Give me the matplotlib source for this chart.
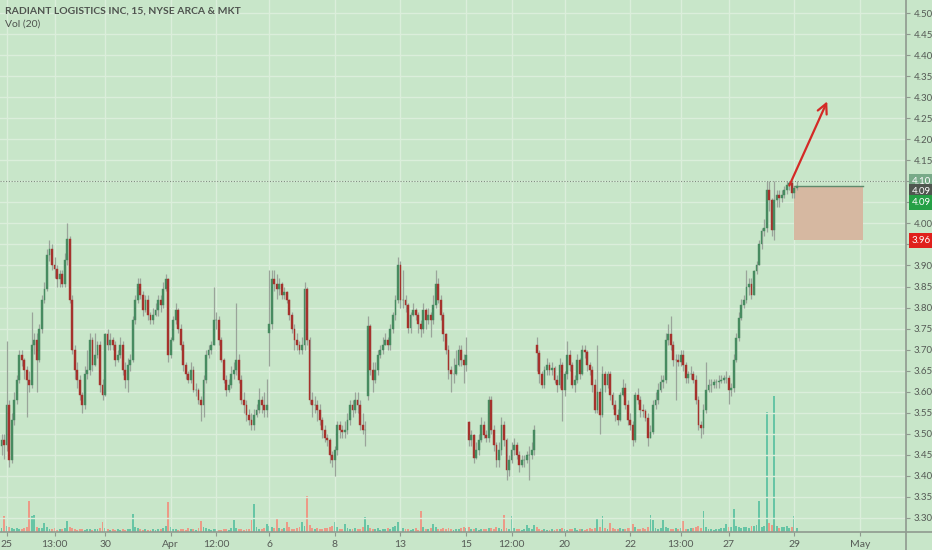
import numpy as np
import matplotlib.pyplot as plt
from matplotlib.lines import Line2D
from matplotlib.patches import Rectangle

# 30-minute candles, slot -2 .. 313 (13 slots per trading day, slot 0 = open of Mar 25)
closes = [
    3.485, 3.473,
    3.569, 3.438, 3.533, 3.581, 3.629, 3.688, 3.676, 3.652, 3.629, 3.617, 3.712, 3.724, 3.676,  # Mar 25
    3.748, 3.819, 3.843, 3.926, 3.938, 3.902, 3.891, 3.867, 3.879, 3.855, 3.914, 3.962, 3.819,  # Mar 26
    3.700, 3.652, 3.629, 3.593, 3.569, 3.641, 3.652, 3.724, 3.664, 3.688, 3.712, 3.617, 3.593,  # Mar 27
    3.736, 3.712, 3.724, 3.712, 3.676, 3.688, 3.712, 3.652, 3.629, 3.664, 3.676, 3.771, 3.819,  # Mar 30
    3.855, 3.831, 3.795, 3.819, 3.783, 3.771, 3.783, 3.795, 3.819, 3.807, 3.843, 3.867, 3.688,  # Mar 31
    3.724, 3.771, 3.795, 3.748, 3.712, 3.664, 3.641, 3.629, 3.652, 3.605, 3.605, 3.581, 3.569,  # Apr 1
    3.629, 3.688, 3.700, 3.712, 3.771, 3.771, 3.724, 3.676, 3.629, 3.605, 3.617, 3.641, 3.652,  # Apr 2
    3.676, 3.629, 3.581, 3.569, 3.545, 3.533, 3.521, 3.545, 3.557, 3.581, 3.569, 3.557, 3.569,  # Apr 3
    3.760, 3.867, 3.855, 3.843, 3.855, 3.831, 3.836, 3.819, 3.783, 3.748, 3.724, 3.712, 3.700,  # Apr 6
    3.712, 3.843, 3.724, 3.581, 3.569, 3.569, 3.557, 3.533, 3.510, 3.491, 3.485, 3.450, 3.438,  # Apr 7
    3.462, 3.521, 3.510, 3.505, 3.510, 3.533, 3.569, 3.557, 3.581, 3.569, 3.521, 3.510, 3.510,  # Apr 8
    3.755, 3.652, 3.629, 3.652, 3.688, 3.700, 3.712, 3.724, 3.712, 3.748, 3.783, 3.819, 3.902,  # Apr 9
    3.819, 3.819, 3.807, 3.752, 3.783, 3.795, 3.783, 3.760, 3.748, 3.795, 3.771, 3.783, 3.771,  # Apr 13
    3.807, 3.855, 3.819, 3.783, 3.736, 3.700, 3.652, 3.641, 3.641, 3.664, 3.700, 3.676, 3.664,  # Apr 14
    3.688, 3.485, 3.498, 3.443, 3.462, 3.485, 3.521, 3.498, 3.491, 3.581, 3.510, 3.473, 3.438,  # Apr 15
    3.462, 3.521, 3.485, 3.414, 3.438, 3.462, 3.473, 3.450, 3.426, 3.438, 3.438, 3.450, 3.450,  # Apr 16
    3.462, 3.510, 3.693, 3.641, 3.617, 3.652, 3.664, 3.652, 3.657, 3.629, 3.617, 3.664, 3.605,  # Apr 17
    3.641, 3.688, 3.664, 3.617, 3.629, 3.676, 3.641, 3.700, 3.695, 3.664, 3.652, 3.617, 3.557,  # Apr 20
    3.600, 3.545, 3.641, 3.617, 3.641, 3.593, 3.569, 3.545, 3.533, 3.593, 3.610, 3.569, 3.533,  # Apr 21
    3.521, 3.485, 3.593, 3.581, 3.557, 3.553, 3.538, 3.491, 3.505, 3.569, 3.581, 3.605, 3.624,  # Apr 22
    3.629, 3.724, 3.736, 3.712, 3.676, 3.676, 3.671, 3.688, 3.664, 3.633, 3.641, 3.641, 3.629,  # Apr 23
    3.581, 3.521, 3.514, 3.557, 3.605, 3.617, 3.617, 3.624, 3.624, 3.626, 3.629, 3.633, 3.633,  # Apr 24
    3.605, 3.610, 3.676, 3.728, 3.776, 3.807, 3.819, 3.848, 3.855, 3.831, 3.886, 3.902, 3.950,  # Apr 27
    3.981, 3.990, 4.080, 4.056, 3.985, 4.056, 4.068, 4.061, 4.068, 4.080, 4.092, 4.097, 4.073,  # Apr 28
    4.085, 4.090,
]
highs = [
    3.50, 3.50,
    3.72, 3.58, 3.55, 3.60, 3.64, 3.70, 3.70, 3.68, 3.66, 3.65, 3.79, 3.74, 3.74,
    3.76, 3.83, 3.86, 3.94, 3.96, 3.95, 3.92, 3.90, 3.89, 3.89, 3.93, 4.00, 3.97,
    3.83, 3.71, 3.67, 3.64, 3.60, 3.66, 3.70, 3.74, 3.73, 3.74, 3.72, 3.72, 3.63,
    3.74, 3.75, 3.74, 3.73, 3.72, 3.70, 3.73, 3.72, 3.67, 3.68, 3.69, 3.78, 3.83,
    3.87, 3.87, 3.84, 3.83, 3.83, 3.79, 3.80, 3.81, 3.83, 3.83, 3.86, 3.88, 3.87,
    3.73, 3.78, 3.81, 3.80, 3.76, 3.72, 3.67, 3.65, 3.67, 3.66, 3.62, 3.61, 3.59,
    3.64, 3.70, 3.71, 3.72, 3.85, 3.79, 3.78, 3.73, 3.68, 3.64, 3.63, 3.66, 3.67,
    3.81, 3.69, 3.64, 3.60, 3.58, 3.56, 3.55, 3.56, 3.57, 3.61, 3.59, 3.60, 3.63,
    3.89, 3.89, 3.89, 3.88, 3.87, 3.86, 3.85, 3.84, 3.82, 3.79, 3.76, 3.74, 3.72,
    3.73, 3.86, 3.85, 3.73, 3.60, 3.59, 3.58, 3.57, 3.54, 3.52, 3.50, 3.49, 3.46,
    3.47, 3.53, 3.53, 3.52, 3.53, 3.55, 3.58, 3.58, 3.60, 3.60, 3.58, 3.55, 3.53,
    3.78, 3.76, 3.67, 3.67, 3.70, 3.71, 3.73, 3.74, 3.73, 3.76, 3.79, 3.83, 3.92,
    3.91, 3.89, 3.83, 3.81, 3.79, 3.81, 3.80, 3.79, 3.77, 3.81, 3.80, 3.80, 3.79,
    3.83, 3.89, 3.87, 3.83, 3.79, 3.74, 3.71, 3.66, 3.68, 3.70, 3.71, 3.71, 3.69,
    3.73, 3.53, 3.51, 3.50, 3.48, 3.50, 3.54, 3.53, 3.51, 3.59, 3.59, 3.52, 3.48,
    3.48, 3.54, 3.53, 3.49, 3.45, 3.48, 3.49, 3.48, 3.46, 3.45, 3.45, 3.46, 3.47,
    3.48, 3.52, 3.73, 3.70, 3.65, 3.66, 3.68, 3.67, 3.67, 3.66, 3.64, 3.68, 3.67,
    3.65, 3.72, 3.70, 3.67, 3.64, 3.69, 3.68, 3.71, 3.71, 3.70, 3.67, 3.66, 3.63,
    3.71, 3.61, 3.66, 3.65, 3.65, 3.65, 3.60, 3.58, 3.56, 3.60, 3.63, 3.62, 3.58,
    3.55, 3.53, 3.60, 3.61, 3.59, 3.57, 3.56, 3.55, 3.52, 3.58, 3.60, 3.62, 3.64,
    3.64, 3.74, 3.76, 3.78, 3.72, 3.69, 3.69, 3.70, 3.70, 3.67, 3.65, 3.66, 3.65,
    3.64, 3.59, 3.53, 3.57, 3.67, 3.63, 3.63, 3.63, 3.63, 3.64, 3.64, 3.64, 3.65,
    3.64, 3.62, 3.69, 3.74, 3.79, 3.82, 3.83, 3.89, 3.87, 3.87, 3.89, 3.91, 3.96,
    3.99, 4.01, 4.10, 4.10, 4.06, 4.10, 4.08, 4.08, 4.08, 4.09, 4.10, 4.10, 4.10,
    4.09, 4.10,
]
lows = [
    3.45, 3.44,
    3.46, 3.42, 3.43, 3.52, 3.57, 3.62, 3.66, 3.63, 3.54, 3.60, 3.61, 3.69, 3.60,
    3.67, 3.74, 3.81, 3.84, 3.91, 3.89, 3.87, 3.85, 3.85, 3.85, 3.85, 3.90, 3.81,
    3.69, 3.63, 3.61, 3.58, 3.55, 3.56, 3.63, 3.64, 3.65, 3.66, 3.68, 3.60, 3.58,
    3.59, 3.70, 3.70, 3.70, 3.66, 3.67, 3.68, 3.64, 3.61, 3.60, 3.65, 3.67, 3.76,
    3.81, 3.82, 3.78, 3.79, 3.77, 3.76, 3.76, 3.78, 3.78, 3.79, 3.80, 3.84, 3.67,
    3.68, 3.72, 3.76, 3.74, 3.70, 3.65, 3.63, 3.62, 3.62, 3.60, 3.59, 3.57, 3.53,
    3.54, 3.62, 3.68, 3.69, 3.71, 3.75, 3.71, 3.67, 3.62, 3.59, 3.60, 3.61, 3.63,
    3.64, 3.62, 3.57, 3.55, 3.53, 3.52, 3.51, 3.51, 3.54, 3.55, 3.55, 3.54, 3.54,
    3.66, 3.75, 3.84, 3.82, 3.83, 3.82, 3.82, 3.81, 3.77, 3.74, 3.70, 3.70, 3.69,
    3.69, 3.70, 3.71, 3.57, 3.54, 3.55, 3.53, 3.52, 3.49, 3.48, 3.47, 3.43, 3.42,
    3.40, 3.45, 3.49, 3.49, 3.49, 3.50, 3.52, 3.54, 3.55, 3.55, 3.51, 3.50, 3.47,
    3.58, 3.64, 3.60, 3.62, 3.64, 3.68, 3.69, 3.71, 3.70, 3.70, 3.74, 3.77, 3.81,
    3.80, 3.80, 3.79, 3.74, 3.74, 3.78, 3.77, 3.74, 3.73, 3.74, 3.75, 3.76, 3.73,
    3.76, 3.80, 3.81, 3.77, 3.72, 3.69, 3.63, 3.60, 3.62, 3.64, 3.66, 3.66, 3.62,
    3.65, 3.47, 3.47, 3.43, 3.44, 3.45, 3.48, 3.49, 3.48, 3.48, 3.50, 3.46, 3.42,
    3.42, 3.45, 3.47, 3.39, 3.40, 3.43, 3.45, 3.44, 3.41, 3.42, 3.42, 3.43, 3.39,
    3.44, 3.45, 3.65, 3.62, 3.61, 3.61, 3.64, 3.64, 3.64, 3.62, 3.60, 3.61, 3.53,
    3.59, 3.63, 3.65, 3.61, 3.60, 3.62, 3.63, 3.64, 3.68, 3.65, 3.64, 3.60, 3.55,
    3.55, 3.50, 3.54, 3.60, 3.61, 3.58, 3.56, 3.53, 3.52, 3.53, 3.59, 3.56, 3.52,
    3.51, 3.47, 3.48, 3.57, 3.54, 3.54, 3.53, 3.47, 3.49, 3.50, 3.56, 3.57, 3.60,
    3.61, 3.62, 3.71, 3.70, 3.66, 3.58, 3.66, 3.66, 3.65, 3.62, 3.62, 3.63, 3.62,
    3.57, 3.51, 3.49, 3.50, 3.55, 3.60, 3.60, 3.61, 3.61, 3.61, 3.62, 3.62, 3.62,
    3.57, 3.59, 3.60, 3.67, 3.72, 3.77, 3.80, 3.81, 3.83, 3.82, 3.83, 3.88, 3.90,
    3.94, 3.97, 3.98, 4.03, 3.97, 3.96, 4.04, 4.04, 4.05, 4.06, 4.07, 4.08, 4.06,
    4.06, 4.08,
]
# volume in thousands of shares
volumes = [
    8, 32,
    12, 9, 7, 6, 8, 5, 6, 7, 9, 60, 32, 34, 10,
    8, 7, 18, 10, 6, 5, 7, 4, 6, 5, 8, 22, 9,
    7, 5, 4, 6, 5, 4, 6, 5, 4, 5, 6, 7, 20,
    8, 5, 4, 6, 4, 5, 3, 5, 4, 6, 5, 36, 9,
    7, 5, 4, 6, 3, 4, 5, 4, 6, 5, 7, 12, 58,
    9, 6, 5, 4, 6, 5, 4, 7, 5, 6, 4, 8, 22,
    10, 7, 5, 4, 6, 5, 3, 4, 5, 6, 4, 7, 24,
    8, 6, 5, 4, 6, 5, 24, 54, 10, 6, 5, 8, 16,
    12, 9, 7, 26, 8, 6, 7, 20, 9, 6, 5, 8, 10,
    20, 12, 70, 14, 8, 6, 7, 5, 6, 8, 7, 9, 12,
    20, 10, 6, 5, 16, 7, 5, 6, 8, 5, 6, 9, 30,
    14, 8, 6, 5, 7, 4, 6, 5, 7, 6, 9, 12, 20,
    12, 8, 5, 6, 4, 5, 7, 4, 42, 10, 6, 5, 7,
    16, 9, 6, 5, 7, 6, 8, 5, 4, 6, 5, 7, 9,
    8, 10, 6, 5, 7, 4, 5, 6, 5, 8, 7, 6, 9,
    7, 5, 34, 8, 6, 32, 7, 5, 6, 4, 6, 14, 8,
    6, 14, 9, 5, 4, 6, 3, 4, 5, 4, 6, 5, 7,
    5, 4, 6, 5, 7, 4, 5, 6, 4, 5, 7, 6, 8,
    28, 10, 32, 7, 6, 18, 8, 5, 6, 7, 5, 6, 8,
    7, 16, 9, 6, 5, 7, 6, 9, 34, 24, 7, 6, 8,
    24, 10, 7, 6, 5, 7, 6, 8, 22, 6, 5, 7, 8,
    9, 12, 8, 42, 10, 6, 5, 4, 6, 5, 7, 8, 16,
    10, 9, 44, 12, 9, 8, 10, 9, 7, 11, 12, 14, 60,
    10, 12, 234, 18, 14, 266, 12, 8, 9, 10, 12, 7, 10,
    32, 8,
]
first_slot = -2
first_open = 3.47
gap_opens = {104: 3.74, 143: 3.59, 183: 3.528, 210: 3.712}

tick_slots = [0, 19, 39, 65, 83, 104, 130, 156, 182, 200, 221, 247, 267, 286, 312, 338]
tick_labels = ['25', '13:00', '30', 'Apr', '12:00', '6', '8', '13', '15',
               '12:00', '20', '22', '13:00', '27', '29', 'May']
price_ticks = np.round(np.arange(3.30, 4.501, 0.05), 2)
covered_ticks = [3.95, 4.05, 4.10]   # hidden behind the price tags

# drawings on the chart
level_price = 4.10
box_slots = (312, 339)
box_prices = (3.96, 4.09)
arrow_from = (310, 4.09)
arrow_to = (325, 4.29)
# right-scale price tags: text, price, colour, vertical nudge in points
tags = [('4.10', 4.10, '#78aa88', 0), ('4.09', 4.09, '#4f564f', -4),
        ('4.09', 4.09, '#25a046', -12.5), ('3.96', 3.96, '#e0201c', 0)]

bg = '#c8e6c9'
grid_c = '#dbeedb'
up_c, down_c, wick_c = '#478b60', '#a5322c', '#9aa49a'
vol_up, vol_down = '#67c5a5', '#ec9a87'
axis_c, text_c = '#8f9a8f', '#555a55'

plt.rcParams['font.family'] = ['Lato', 'DejaVu Sans']

x = np.arange(first_slot, first_slot + len(closes))
c = np.array(closes)
o = np.concatenate([[first_open], c[:-1]])
for s, v in gap_opens.items():
    o[s - first_slot] = v
h = np.maximum(np.array(highs), np.maximum(o, c))
l = np.minimum(np.array(lows), np.minimum(o, c))
rising = c >= o

fig = plt.figure(figsize=(9.32, 5.5), dpi=100, facecolor=bg)
rect = [0, 18 / 550, 905.5 / 932, 532 / 550]
ax = fig.add_axes(rect)
vax = ax.twinx()
ax.set_zorder(vax.get_zorder() + 1)
ax.patch.set_visible(False)
vax.set_facecolor(bg)

# volume
vax.bar(x, volumes, width=0.75, color=np.where(rising, vol_up, vol_down), linewidth=0)
vax.set_ylim(0, 1040)
vax.set_yticks([])
for sp in vax.spines.values():
    sp.set_visible(False)

# candles
ax.vlines(x, l, h, color=wick_c, lw=0.9, zorder=3)
body_c = np.where(rising, up_c, down_c)
ax.bar(x, np.abs(c - o), bottom=np.minimum(o, c), width=0.72, color=body_c,
       edgecolor=body_c, linewidth=0.3, zorder=4)

ax.set_xlim(-2.6, 356)
ax.set_ylim(3.2666, 4.5309)
ax.set_xticks(tick_slots)
ax.set_xticklabels(tick_labels)
ax.set_yticks(price_ticks)
ax.set_yticklabels(['' if p in covered_ticks else f'{p:.2f}' for p in price_ticks])
ax.yaxis.tick_right()
ax.grid(True, color=grid_c, lw=1.0, zorder=0)
ax.set_axisbelow(True)
ax.tick_params(axis='y', length=3, color=axis_c, labelsize=7, labelcolor=text_c, pad=3)
ax.tick_params(axis='x', length=3, color=axis_c, labelsize=7.5, labelcolor=text_c, pad=3)
for side in ['top', 'left', 'right', 'bottom']:
    ax.spines[side].set_visible(False)

# axis frame lines
fig.add_artist(Line2D([0, 1], [18 / 550, 18 / 550], color=axis_c, lw=1.2))
fig.add_artist(Line2D([905.5 / 932, 905.5 / 932], [0, 1], color=axis_c, lw=1.2))

# drawings
ax.axhline(level_price, color='#7d8c7d', lw=0.8, ls=(0, (1, 1.5)), zorder=5)
ax.add_patch(Rectangle((box_slots[0], box_prices[0]), box_slots[1] - box_slots[0],
                       box_prices[1] - box_prices[0], facecolor='#d6b8a1',
                       edgecolor='none', zorder=2))
ax.plot(box_slots, [box_prices[1]] * 2, color='#5f8a6c', lw=1.0, zorder=2)
ax.annotate('', xy=arrow_to, xytext=arrow_from,
            arrowprops=dict(arrowstyle='->,head_length=0.7,head_width=0.35',
                            color='#d42a26', lw=1.6, shrinkA=0, shrinkB=0), zorder=6)

for txt, p, col, dy in tags:
    ax.annotate(txt, xy=(1.0, p), xycoords=ax.get_yaxis_transform(),
                xytext=(4.5, dy), textcoords='offset points', ha='left', va='center',
                fontsize=7, color='white', annotation_clip=False, zorder=10,
                bbox=dict(boxstyle='square,pad=0.3', fc=col, ec='none'))

fig.text(5 / 932, 1 - 11 / 550, 'RADIANT LOGISTICS INC, 15, NYSE ARCA & MKT',
         fontsize=7.5, fontweight='bold', color='#4e534e', va='center')
fig.text(5 / 932, 1 - 24 / 550, 'Vol (20)', fontsize=7.5, color='#4e534e', va='center')

fig.savefig('out.png', dpi=100, facecolor=bg)
